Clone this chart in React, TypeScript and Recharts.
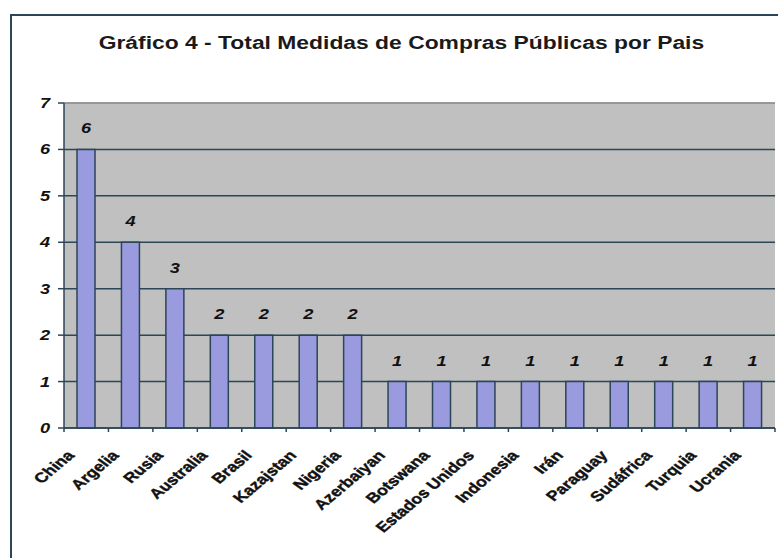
import React from "react";
import { BarChart, Bar, XAxis, YAxis, CartesianGrid, LabelList, ReferenceLine } from "recharts";

const paises = [
  "China", "Argelia", "Rusia", "Australia", "Brasil", "Kazajstan", "Nigeria", "Azerbaiyan",
  "Botswana", "Estados Unidos", "Indonesia", "Irán", "Paraguay", "Sudáfrica", "Turquia", "Ucrania",
];
const medidas = [6, 4, 3, 2, 2, 2, 2, 1, 1, 1, 1, 1, 1, 1, 1, 1];
const yTicks = [0, 1, 2, 3, 4, 5, 6, 7];
const titulo = "Gráfico 4 - Total Medidas de Compras Públicas por Pais";

const data = paises.map((p, i) => ({ pais: p, total: medidas[i] }));

const FONT = "'Liberation Sans', Arial, sans-serif";
const DARK = "#2b4656";
const STRETCH = 1.27;

const XTick = (props: any) => {
  const { x, y, payload, index } = props;
  const half = 22.2;
  return (
    <g>
      <line x1={x - half} y1={y} x2={x - half} y2={y + 4} stroke={DARK} strokeWidth={1.5} />
      {index === paises.length - 1 && (
        <line x1={x + half} y1={y} x2={x + half} y2={y + 4} stroke={DARK} strokeWidth={1.5} />
      )}
      <g transform={`translate(${x - 11},${y + 28}) scale(${STRETCH},1) rotate(-47)`}>
        <text
          x={0}
          y={0}
          textAnchor="end"
          fontFamily={FONT}
          fontWeight="bold"
          fontSize={14}
          fill="#111"
          stroke="#111"
          strokeWidth={0.4}
        >
          {payload.value}
        </text>
      </g>
    </g>
  );
};

const YTick = (props: any) => {
  const { x, y, payload } = props;
  return (
    <g transform={`translate(${x},${y + 5}) scale(1.3,1)`}>
      <text
        x={0}
        y={0}
        textAnchor="end"
        fontFamily={FONT}
        fontWeight="bold"
        fontStyle="italic"
        fontSize={14}
        fill="#111"
      >
        {payload.value}
      </text>
    </g>
  );
};

const ValueLabel = (props: any) => {
  const { x, y, width, value } = props;
  const cx = x + width / 2;
  return (
    <g transform={`translate(${cx},${y - 16}) scale(1.3,1)`}>
      <text
        x={0}
        y={0}
        textAnchor="middle"
        fontFamily={FONT}
        fontWeight="bold"
        fontStyle="italic"
        fontSize={14}
        fill="#111"
      >
        {value}
      </text>
    </g>
  );
};

export default function App() {
  return (
    <div style={{ position: "absolute", left: 0, top: 0, width: 778, height: 558, background: "#fff", overflow: "hidden" }}>
      <div
        style={{
          position: "absolute",
          left: 10,
          top: 14,
          width: 800,
          height: 600,
          border: `2px solid ${DARK}`,
          boxSizing: "border-box",
        }}
      />
      <div
        style={{
          position: "absolute",
          left: 0,
          width: 802,
          top: 33,
          textAlign: "center",
        }}
      >
        <span
          style={{
            display: "inline-block",
            transform: `scaleX(${STRETCH})`,
            fontFamily: FONT,
            fontWeight: "bold",
            fontSize: 18,
            color: "#1a1a1a",
          }}
        >
          {titulo}
        </span>
      </div>
      <div style={{ position: "absolute", left: 0, top: 0 }}>
        <BarChart width={778} height={558} data={data} margin={{ top: 103, right: 3, left: 0, bottom: 0 }}>
          <CartesianGrid vertical={false} fill="#c0c0c0" stroke={DARK} strokeWidth={1.5} />
          <ReferenceLine y={7} stroke="#a9a9a9" strokeWidth={1.5} />
          <XAxis
            dataKey="pais"
            interval={0}
            height={130}
            tickLine={false}
            tickSize={0}
            tickMargin={0}
            axisLine={{ stroke: DARK, strokeWidth: 1.5 }}
            tick={<XTick />}
          />
          <YAxis
            width={64}
            domain={[0, 7]}
            ticks={yTicks}
            interval={0}
            tickSize={6}
            tickMargin={8}
            tickLine={{ stroke: DARK, strokeWidth: 1.5 }}
            axisLine={{ stroke: DARK, strokeWidth: 1.5 }}
            tick={<YTick />}
          />
          <Bar dataKey="total" barSize={18} fill="#9a9ade" stroke={DARK} strokeWidth={1.5} isAnimationActive={false}>
            <LabelList dataKey="total" content={<ValueLabel />} />
          </Bar>
        </BarChart>
      </div>
    </div>
  );
}
